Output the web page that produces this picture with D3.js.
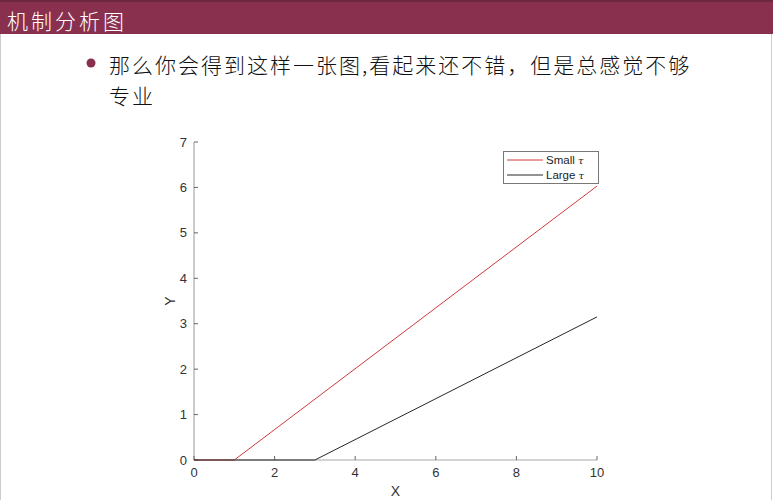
<!DOCTYPE html>
<html><head><meta charset="utf-8">
<script src="https://cdn.jsdelivr.net/npm/d3@7"></script>
<style>body{margin:0;background:#fff;overflow:hidden}</style>
</head><body>
<svg id="c" width="773" height="500"></svg>
<script>
const titleText = "机制分析图";
const bulletLines = ["那么你会得到这样一张图,看起来还不错，但是总感觉不够", "专业"];
const xTicks = [0, 2, 4, 6, 8, 10];
const yTicks = [0, 1, 2, 3, 4, 5, 6, 7];
const seriesNames = ["Small", "Large"];
const smallX = [0, 1, 10];
const smallY = [0, 0, 6.03];
const largeX = [0, 3, 10];
const largeY = [0, 0, 3.15];
const colors = ["#d03a3a", "#262626"];

const svg = d3.select("#c");
svg.append("rect").attr("x",0).attr("y",0).attr("width",773).attr("height",500).attr("fill","#fff");
svg.append("line").attr("x1",0.5).attr("x2",0.5).attr("y1",0).attr("y2",500).attr("stroke","#ccc");
svg.append("line").attr("x1",771.5).attr("x2",771.5).attr("y1",0).attr("y2",500).attr("stroke","#ccc");
svg.append("rect").attr("x",0).attr("y",0).attr("width",773).attr("height",34).attr("fill","#89304f");
svg.append("rect").attr("x",0).attr("y",0).attr("width",773).attr("height",2).attr("fill","#6e2740");
svg.append("text").attr("x",7).attr("y",29).attr("fill","#fff")
  .style("font-family","'Noto Sans CJK SC'").style("font-size","21px").style("font-weight","300")
  .style("letter-spacing","3px")
  .text(titleText);
// bullet
svg.append("circle").attr("cx",91).attr("cy",63).attr("r",4.5).attr("fill","#89304f");
bulletLines.forEach((t,i)=>{
  svg.append("text").attr("x",109).attr("y",73+i*31).attr("fill","#111")
    .style("font-family","'Noto Sans CJK SC'").style("font-size","21px").style("font-weight","300")
    .style("letter-spacing","2px")
    .text(t);
});

const x = d3.scaleLinear().domain([0,10]).range([194,597]);
const y = d3.scaleLinear().domain([0,7]).range([460,142]);
const g = svg.append("g");
const font = "'Liberation Sans', Arial, sans-serif";

g.append("line").attr("x1",x(0)).attr("x2",x(10)).attr("y1",y(0)).attr("y2",y(0)).attr("stroke","#a8a8a8").attr("stroke-width",1.2);
g.append("line").attr("x1",x(0)).attr("x2",x(0)).attr("y1",y(0)).attr("y2",y(7)).attr("stroke","#a8a8a8").attr("stroke-width",1.2);

xTicks.forEach(v=>{
  g.append("line").attr("x1",x(v)).attr("x2",x(v)).attr("y1",y(0)).attr("y2",y(0)-4).attr("stroke","#666");
  g.append("text").attr("x",x(v)).attr("y",y(0)+17).attr("text-anchor","middle")
    .attr("fill","#333").style("font-family",font).style("font-size","13px").text(v);
});
yTicks.forEach(v=>{
  g.append("line").attr("x1",x(0)).attr("x2",x(0)+4).attr("y1",y(v)).attr("y2",y(v)).attr("stroke","#666");
  g.append("text").attr("x",x(0)-7).attr("y",y(v)+4.5).attr("text-anchor","end")
    .attr("fill","#333").style("font-family",font).style("font-size","13px").text(v);
});
g.append("text").attr("x",(x(0)+x(10))/2).attr("y",496).attr("text-anchor","middle")
  .attr("fill","#333").style("font-family",font).style("font-size","14px").text("X");
g.append("text").attr("transform",`translate(175,${(y(0)+y(7))/2}) rotate(-90)`).attr("text-anchor","middle")
  .attr("fill","#333").style("font-family",font).style("font-size","14px").text("Y");

const line = d3.line().x(d=>x(d[0])).y(d=>y(d[1]));
const series = [d3.zip(smallX, smallY), d3.zip(largeX, largeY)];
series.forEach((s,i)=>{
  g.append("path").attr("d",line(s)).attr("fill","none").attr("stroke",colors[i]).attr("stroke-width",1);
});

const lg = svg.append("g");
lg.append("rect").attr("x",503.5).attr("y",151.5).attr("width",95).attr("height",32)
  .attr("fill","#fff").attr("stroke","#777").attr("stroke-width",1);
seriesNames.forEach((n,i)=>{
  const yy = 160 + i*15;
  lg.append("line").attr("x1",507).attr("x2",543).attr("y1",yy).attr("y2",yy).attr("stroke",colors[i]);
  const t = lg.append("text").attr("x",546).attr("y",yy+4).attr("fill","#222")
    .style("font-family",font).style("font-size","11.5px");
  t.append("tspan").text(n+" ");
  t.append("tspan").style("font-style","italic").style("font-family","'DejaVu Serif', serif").style("font-size","10px").text("τ");
});
</script>
</body></html>
